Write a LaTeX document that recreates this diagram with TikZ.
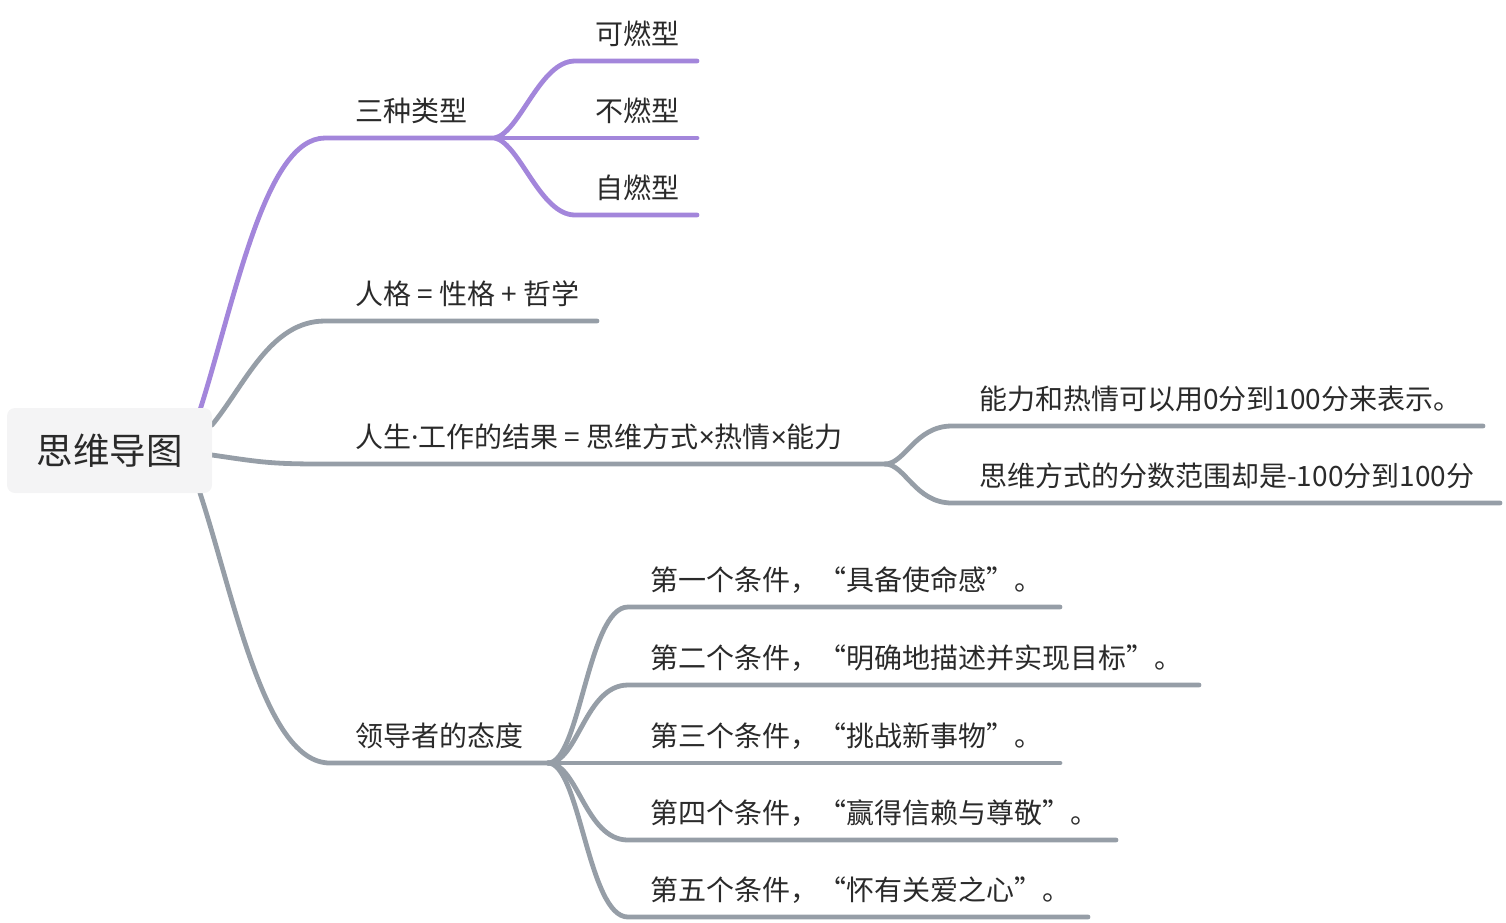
\documentclass[tikz,border=0pt]{standalone}
\usepackage{fontspec}
\newfontfamily\cjk{Noto Sans CJK SC}
\newfontfamily\lat{Noto Sans}
\definecolor{purp}{HTML}{A386DB}
\definecolor{gry}{HTML}{969EA7}
\definecolor{txt}{HTML}{2A2A2A}
\definecolor{rootfill}{HTML}{F4F4F5}
\begin{document}
\begin{tikzpicture}[x=1pt,y=-1pt,
  lbl/.style={font=\cjk\fontsize{28}{33}\selectfont, text=txt, anchor=base west, inner sep=0pt},
  rootbox/.style={font=\cjk\fontsize{36.5}{42}\selectfont, text=txt, fill=rootfill, rounded corners=8pt, minimum width=205pt, minimum height=85pt, inner sep=0pt},
  pline/.style={line width=4.8pt, line cap=round, draw=purp},
  gline/.style={line width=4.8pt, line cap=round, draw=gry}]
\useasboundingbox (0,0) rectangle (1506,922);
% coordinates
\coordinate (b1s) at (200,410);
\coordinate (b1h) at (325,138);
\coordinate (b1f) at (495,138);
\coordinate (c1h) at (575,61);  \coordinate (c1e) at (697,61);
\coordinate (c2e) at (697,138);
\coordinate (c3h) at (575,215); \coordinate (c3e) at (697,215);
\coordinate (b2s) at (212,425);
\coordinate (b2h) at (325,321); \coordinate (b2e) at (597,321);
\coordinate (b3s) at (212,455);
\coordinate (b3h) at (322,464); \coordinate (b3f) at (885,464);
\coordinate (d1h) at (952,426); \coordinate (d1e) at (1483,426);
\coordinate (d2h) at (952,503); \coordinate (d2e) at (1500,503);
\coordinate (b4s) at (200,493);
\coordinate (b4h) at (330,763); \coordinate (b4f) at (548,763);
\coordinate (e1h) at (628,607); \coordinate (e1e) at (1060,607);
\coordinate (e2h) at (628,685); \coordinate (e2e) at (1199,685);
\coordinate (e3e) at (1060,763);
\coordinate (e4h) at (628,840); \coordinate (e4e) at (1116,840);
\coordinate (e5h) at (628,917); \coordinate (e5e) at (1088,917);
% branch 1
\draw[pline] (b1s) .. controls (235,300) and (265,138) .. (b1h) -- (b1f);
\draw[pline] (b1f) .. controls (520,132) and (540,61) .. (c1h) -- (c1e);
\draw[pline] (b1f) -- (c2e);
\draw[pline] (b1f) .. controls (520,144) and (540,215) .. (c3h) -- (c3e);
% branch 2
\draw[gline] (b2s) .. controls (245,385) and (270,321) .. (b2h) -- (b2e);
% branch 3
\draw[gline] (b3s) .. controls (260,462) and (270,464) .. (b3h) -- (b3f);
\draw[gline] (b3f) .. controls (905,464) and (915,426) .. (d1h) -- (d1e);
\draw[gline] (b3f) .. controls (905,464) and (915,503) .. (d2h) -- (d2e);
% branch 4
\draw[gline] (b4s) .. controls (235,600) and (265,763) .. (b4h) -- (b4f);
\draw[gline] (b4f) .. controls (580,763) and (588,607) .. (e1h) -- (e1e);
\draw[gline] (b4f) .. controls (578,763) and (585,685) .. (e2h) -- (e2e);
\draw[gline] (b4f) -- (e3e);
\draw[gline] (b4f) .. controls (578,763) and (585,840) .. (e4h) -- (e4e);
\draw[gline] (b4f) .. controls (580,763) and (588,917) .. (e5h) -- (e5e);
% root
\node[rootbox] (root) at (109.5,450.5) {思维导图};
% labels
\node[lbl] (t1) at (355,121) {三种类型};
\node[lbl] (t11) at (595,44) {可燃型};
\node[lbl] (t12) at (595,121) {不燃型};
\node[lbl] (t13) at (595,198) {自燃型};
\node[lbl] (t2) at (355,304) {人格 = 性格 + 哲学};
\node[lbl] (t3) at (355,447) {人生{\lat ·}工作的结果 = 思维方式{\lat ×}热情{\lat ×}能力};
\node[lbl] (t31) at (979,409) {能力和热情可以用0分到100分来表示。};
\node[lbl] (t32) at (979,486) {思维方式的分数范围却是-100分到100分};
\node[lbl] (t4) at (355,746) {领导者的态度};
\node[lbl] (t41) at (650,590) {第一个条件，“具备使命感”。};
\node[lbl] (t42) at (650,668) {第二个条件，“明确地描述并实现目标”。};
\node[lbl] (t43) at (650,746) {第三个条件，“挑战新事物”。};
\node[lbl] (t44) at (650,823) {第四个条件，“赢得信赖与尊敬”。};
\node[lbl] (t45) at (650,900) {第五个条件，“怀有关爱之心”。};
\end{tikzpicture}
\end{document}
